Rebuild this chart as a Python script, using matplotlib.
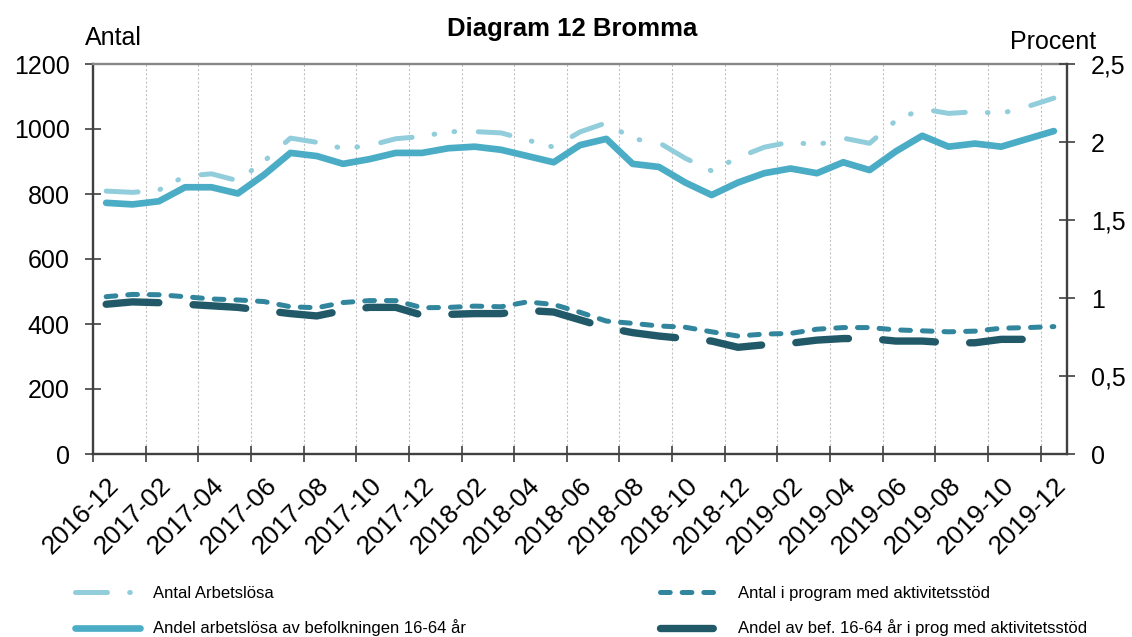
import numpy as np
import pandas as pd
import matplotlib.pyplot as plt
import matplotlib.transforms as mtransforms
from matplotlib.ticker import FuncFormatter

plt.rcParams['font.family'] = ['Liberation Sans', 'DejaVu Sans']
plt.rcParams['lines.scale_dashes'] = False

# månader 2016-12 .. 2019-12
months = [str(p) for p in pd.period_range('2016-12', '2019-12', freq='M')]

# vänster axel (antal)
antal_arbetslosa = [809, 805, 812, 855, 862, 841, 901, 972, 959, 940, 949, 970,
                    977, 992, 992, 988, 966, 944, 991, 1019, 970, 958, 910, 871,
                    912, 944, 960, 951, 972, 956, 1026, 1062, 1048, 1053, 1048,
                    1069, 1095]
antal_program = [484, 491, 490, 484, 477, 474, 469, 453, 450, 466, 472, 472,
                 450, 451, 455, 453, 468, 460, 436, 409, 402, 394, 390, 376,
                 363, 369, 371, 384, 389, 389, 382, 379, 376, 378, 387, 389, 392]

# höger axel (procent)
andel_arbetslosa = [1.61, 1.60, 1.62, 1.71, 1.71, 1.67, 1.79, 1.93, 1.91, 1.86,
                    1.89, 1.93, 1.93, 1.96, 1.97, 1.95, 1.91, 1.87, 1.98, 2.02,
                    1.86, 1.84, 1.74, 1.66, 1.74, 1.80, 1.83, 1.80, 1.87, 1.82,
                    1.94, 2.04, 1.97, 1.99, 1.97, 2.02, 2.07]
andel_program = [0.96, 0.975, 0.97, 0.96, 0.95, 0.94, 0.92, 0.90, 0.885, 0.92,
                 0.94, 0.94, 0.89, 0.895, 0.90, 0.90, 0.92, 0.91, 0.86, 0.81,
                 0.778, 0.756, 0.74, 0.724, 0.684, 0.70, 0.71, 0.73, 0.74, 0.74,
                 0.724, 0.724, 0.713, 0.713, 0.735, 0.735, 0.735]

labels = ['Antal Arbetslösa', 'Andel arbetslösa av befolkningen 16-64 år',
          'Antal i program med aktivitetsstöd',
          'Andel av bef. 16-64 år i prog med aktivitetsstöd']

axis_col = '#404040'
fs = 18

fig = plt.figure(figsize=(11.32, 6.37), dpi=100)
ax = fig.add_axes([93 / 1132, 1 - 454 / 637, 974 / 1132, 390 / 637])
ax2 = ax.twinx()

x = np.arange(len(months))

l1, = ax.plot(x, antal_arbetslosa, color='#92cddc', lw=3.6,
              dashes=[23, 16, 0.5, 14, 0.5, 17],
              dash_capstyle='round', dash_joinstyle='round')
l3, = ax.plot(x, antal_program, color='#31859c', lw=3.6, dashes=[7, 8.6],
              dash_capstyle='round', dash_joinstyle='round')
l2, = ax2.plot(x, andel_arbetslosa, color='#4bacc6', lw=4.8,
               solid_capstyle='round', solid_joinstyle='round')
l4, = ax2.plot(x, andel_program, color='#215968', lw=5.3, dashes=[38, 24.7],
               dash_capstyle='round', dash_joinstyle='round')

ax.set_xlim(-0.5, len(months) - 0.5)
ax.set_ylim(0, 1200)
ax2.set_ylim(0, 2.5)

ax.set_yticks(np.arange(0, 1201, 200))
ax2.set_yticks(np.arange(0, 2.51, 0.5))
ax2.yaxis.set_major_formatter(FuncFormatter(lambda v, p: f"{v:g}".replace('.', ',')))

# streck mellan kategorierna, etiketter i mitten
ax.set_xticks(np.arange(-0.5, len(months) - 1, 2))
ax.set_xticklabels([])
ax.set_xticks(x[::2], [months[i] for i in x[::2]], minor=True)
shift = mtransforms.ScaledTranslation(4 / 100, 0, fig.dpi_scale_trans)
for t in ax.get_xticklabels(minor=True):
    t.set_rotation(45)
    t.set_ha('right')
    t.set_va('top')
    t.set_rotation_mode('anchor')
    t.set_transform(t.get_transform() + shift)

ax.tick_params(axis='x', which='major', direction='inout', length=11.5,
               width=1.2, color=axis_col)
ax.tick_params(axis='x', which='minor', length=0, pad=14, labelsize=19)
ax.tick_params(axis='y', direction='inout', length=11.5, width=1.2,
               color=axis_col, labelsize=fs, pad=11)
ax2.tick_params(axis='y', direction='inout', length=11.5, width=1.2,
                color=axis_col, labelsize=fs, pad=11.5)

ax.grid(axis='x', which='major', color='#c0c0c0', lw=0.8, linestyle=(0, (1.5, 1.5)))

for s in ['left', 'bottom']:
    ax.spines[s].set_color(axis_col)
    ax.spines[s].set_linewidth(1.7)
ax.spines['top'].set_color('#878787')
ax.spines['top'].set_linewidth(1.7)
ax.spines['right'].set_visible(False)
for s in ['left', 'bottom', 'top']:
    ax2.spines[s].set_visible(False)
ax2.spines['right'].set_color(axis_col)
ax2.spines['right'].set_linewidth(1.7)

fig.text(572.5 / 1132, 1 - 36 / 637, 'Diagram 12 Bromma', fontsize=18.5,
         fontweight='bold', ha='center', va='baseline')
fig.text(85 / 1132, 1 - 45 / 637, 'Antal', fontsize=fs, ha='left', va='baseline')
fig.text(1096 / 1132, 1 - 49 / 637, 'Procent', fontsize=fs, ha='right', va='baseline')

leg_kw = dict(loc='center left', frameon=False, fontsize=12, borderpad=0,
              borderaxespad=0, handlelength=3.9, handletextpad=0.78,
              labelspacing=1.13)
fig.legend([l1, l2], labels[:2], bbox_to_anchor=(75 / 1132, 1 - 611 / 637), **leg_kw)
fig.legend([l3, l4], labels[2:], bbox_to_anchor=(660 / 1132, 1 - 611 / 637), **leg_kw)

fig.savefig('out.png', dpi=100)
